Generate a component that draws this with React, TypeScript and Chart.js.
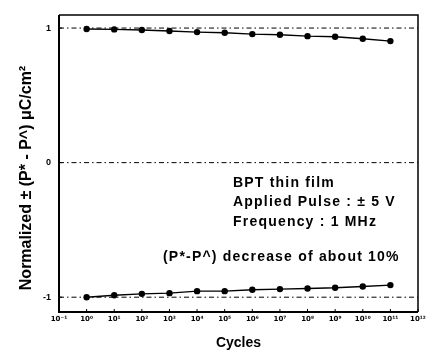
import React, { useEffect, useRef } from "react";
import { Chart, registerables } from "chart.js";

Chart.register(...registerables);

// Data (x values are log10 of the cycle count)
const cycleExponents = [0, 1, 2, 3, 4, 5, 6, 7, 8, 9, 10, 11];
const upperValues = [0.993, 0.99, 0.985, 0.978, 0.97, 0.965, 0.955, 0.95, 0.94, 0.935, 0.92, 0.903];
const lowerValues = [-1.0, -0.985, -0.975, -0.97, -0.955, -0.955, -0.945, -0.94, -0.935, -0.93, -0.92, -0.91];
const referenceLevels = [1, 0, -1];
const xTickExponents = [-1, 0, 1, 2, 3, 4, 5, 6, 7, 8, 9, 10, 11, 12];
const yTickValues = [-1, 0, 1];
const annotationLines = ["BPT thin film", "Applied Pulse : \u00b1 5 V", "Frequency : 1 MHz"];
const noteText = "(P*-P^) decrease of about 10%";
const yTitle = "Normalized \u00b1 (P* - P^) \u03bcC/cm\u00b2";
const xTitle = "Cycles";

const SUP: Record<string, string> = {
  "-": "\u207b", "0": "\u2070", "1": "\u00b9", "2": "\u00b2", "3": "\u00b3",
  "4": "\u2074", "5": "\u2075", "6": "\u2076", "7": "\u2077", "8": "\u2078", "9": "\u2079",
};
const sup = (n: number) => String(n).split("").map((c) => SUP[c] ?? c).join("");

const FONT = "'Liberation Sans', Arial, sans-serif";
const TICK_FONT = "'DejaVu Sans', sans-serif";

const decorPlugin = {
  id: "decor",
  afterDraw(chart: any) {
    const { ctx, chartArea: a, scales } = chart;
    ctx.save();
    ctx.strokeStyle = "#000";
    // frame
    ctx.lineWidth = 1.5;
    ctx.beginPath();
    ctx.moveTo(a.left, a.top);
    ctx.lineTo(a.right, a.top);
    ctx.lineTo(a.right, a.bottom);
    ctx.stroke();
    ctx.lineWidth = 2;
    ctx.beginPath();
    ctx.moveTo(a.left, a.top);
    ctx.lineTo(a.left, a.bottom);
    ctx.lineTo(a.right, a.bottom);
    ctx.stroke();
    // inward ticks
    ctx.lineWidth = 1;
    ctx.beginPath();
    for (const e of xTickExponents) {
      const px = scales.x.getPixelForValue(e);
      ctx.moveTo(px, a.bottom);
      ctx.lineTo(px, a.bottom - 3);
    }
    for (const v of yTickValues) {
      const py = scales.y.getPixelForValue(v);
      ctx.moveTo(a.left, py);
      ctx.lineTo(a.left + 3, py);
    }
    ctx.stroke();
    // y title
    ctx.fillStyle = "#000";
    ctx.font = `bold 16px ${FONT}`;
    ctx.textAlign = "center";
    ctx.textBaseline = "middle";
    ctx.translate(27, 178);
    ctx.rotate(-Math.PI / 2);
    ctx.fillText(yTitle, 0, 0);
    ctx.restore();

    ctx.save();
    ctx.fillStyle = "#000";
    ctx.font = `bold 14px ${FONT}`;
    (ctx as any).letterSpacing = "1.2px";
    ctx.textAlign = "left";
    ctx.textBaseline = "middle";
    const ys = [183, 202, 222];
    annotationLines.forEach((t, i) => ctx.fillText(t, 233, ys[i]));
    ctx.fillText(noteText, 163, 257);
    ctx.restore();
  },
};

export default function App() {
  const ref = useRef<HTMLCanvasElement>(null);
  useEffect(() => {
    if (!ref.current) return;
    const refDatasets = referenceLevels.map((v) => ({
      data: [{ x: -1, y: v }, { x: 12, y: v }],
      borderColor: "#000",
      borderWidth: 1,
      borderDash: [5, 3, 1.5, 3],
      pointRadius: 0,
      fill: false,
    }));
    const series = [upperValues, lowerValues].map((vals) => ({
      data: cycleExponents.map((e, i) => ({ x: e, y: vals[i] })),
      borderColor: "#000",
      backgroundColor: "#000",
      borderWidth: 1.4,
      pointRadius: 3.2,
      pointBorderWidth: 0,
      pointBackgroundColor: "#000",
      pointBorderColor: "#000",
      fill: false,
    }));
    const chart = new Chart(ref.current, {
      type: "line",
      data: { datasets: [...refDatasets, ...series] as any },
      plugins: [decorPlugin],
      options: {
        animation: false,
        responsive: false,
        layout: { padding: { left: 0, right: 8, top: 15, bottom: 0 } },
        plugins: { legend: { display: false }, tooltip: { enabled: false } },
        scales: {
          x: {
            type: "linear",
            min: -1,
            max: 12,
            afterBuildTicks: (s: any) => {
              s.ticks = xTickExponents.map((v) => ({ value: v }));
            },
            afterFit: (s: any) => {
              s.height = 40;
              s.paddingLeft = 0;
              s.paddingRight = 0;
            },
            grid: { display: false, drawTicks: false },
            border: { display: false },
            ticks: {
              autoSkip: false,
              maxRotation: 0,
              padding: 3,
              color: "#000",
              font: { size: 7, weight: "bold", family: TICK_FONT },
              callback: (v: any) => "10" + sup(Number(v)),
            },
            title: {
              display: true,
              text: xTitle,
              color: "#000",
              font: { size: 14, weight: "bold", family: FONT },
              padding: { top: 0, bottom: 0 },
            },
          },
          y: {
            type: "linear",
            min: -1.11,
            max: 1.097,
            afterBuildTicks: (s: any) => {
              s.ticks = yTickValues.map((v) => ({ value: v }));
            },
            afterFit: (s: any) => {
              s.width = 59;
              s.paddingTop = 0;
              s.paddingBottom = 0;
            },
            grid: { display: false, drawTicks: false },
            border: { display: false },
            ticks: {
              padding: 8,
              color: "#000",
              font: { size: 9, weight: "bold", family: FONT },
              callback: (v: any) => String(v),
            },
          },
        },
      } as any,
    });
    return () => chart.destroy();
  }, []);
  return (
    <div style={{ position: "absolute", left: 0, top: 0, width: 426, height: 352, background: "#fff" }}>
      <canvas ref={ref} width={426} height={352} />
    </div>
  );
}
